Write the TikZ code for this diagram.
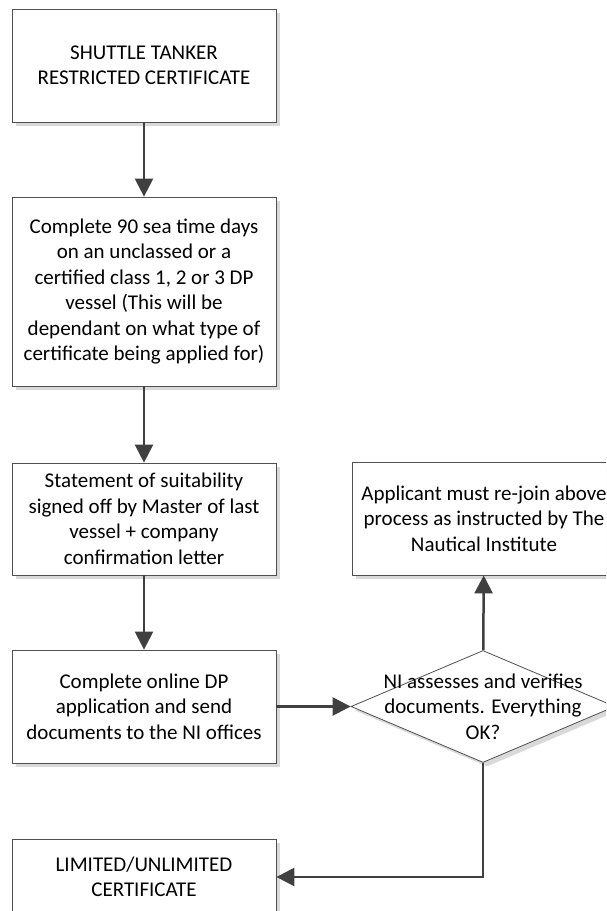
\documentclass[tikz,border=0pt]{standalone}
\usepackage{fontspec}
\setmainfont{Carlito}
\usepackage{tikz}
\usepackage{xcolor}
\usetikzlibrary{arrows.meta,shapes.geometric,shadows}

\definecolor{linegray}{HTML}{404040}
\definecolor{boxgray}{HTML}{505050}

\tikzset{
  boxshadow/.style={drop shadow={shadow xshift=4pt,shadow yshift=-4pt,fill=black!15,opacity=1}},
  stage/.style={draw=boxgray,fill=white,line width=0.8pt,minimum width=264pt,inner sep=2pt,
    align=center,font=\fontsize{21}{25.5}\selectfont,boxshadow},
  check/.style={diamond,draw=boxgray,fill=white,line width=0.8pt,minimum width=264pt,
    minimum height=112pt,inner sep=0pt,boxshadow},
  checktext/.style={align=center,font=\fontsize{21}{25.5}\selectfont},
  link/.style={-{Triangle[length=18pt,width=18pt]},linegray,line width=2.5pt}
}

\begin{document}
\begin{tikzpicture}[x=1pt,y=-1pt]
      \useasboundingbox (0,0) rectangle (606,911);
      \clip (0,0) rectangle (606,911);
      \node [stage,minimum height=113pt] (shuttle) at (144,65.5) {SHUTTLE TANKER\\RESTRICTED CERTIFICATE};
      \node [stage,minimum height=189pt] (seatime) at (144,291.5) {Complete 90 sea time days\\on an unclassed or a\\certified class 1, 2 or 3 DP\\vessel (This will be\\dependant on what type of\\certificate being applied for)};
      \node [stage,minimum height=112pt] (suitability) at (144,519) {Statement of suitability\\signed off by Master of last\\vessel + company\\confirmation letter};
      \node [stage,minimum height=113pt] (online) at (144,706.5) {Complete online DP\\application and send\\documents to the NI offices};
      \node [stage,minimum height=76pt] (result) at (144,877) {LIMITED/UNLIMITED\\CERTIFICATE};
      \node [stage,minimum height=113pt] (rejoin) at (484,518.5) {Applicant must re-join above\\process as instructed by The\\Nautical Institute};
      \node [check] (assess) at (483,706.5) {};
      \node [checktext] (assesstext) at (assess) {NI assesses and verifies\\documents. Everything\\OK?};
      \draw [link] (shuttle) -- (seatime);
      \draw [link] (seatime) -- (suitability);
      \draw [link] (suitability) -- (online);
      \draw [link] (online) -- (assess);
      \draw [link] (assess) -- (rejoin);
      \draw [link] (assess.south) |- (result.east);
\end{tikzpicture}
\end{document}
